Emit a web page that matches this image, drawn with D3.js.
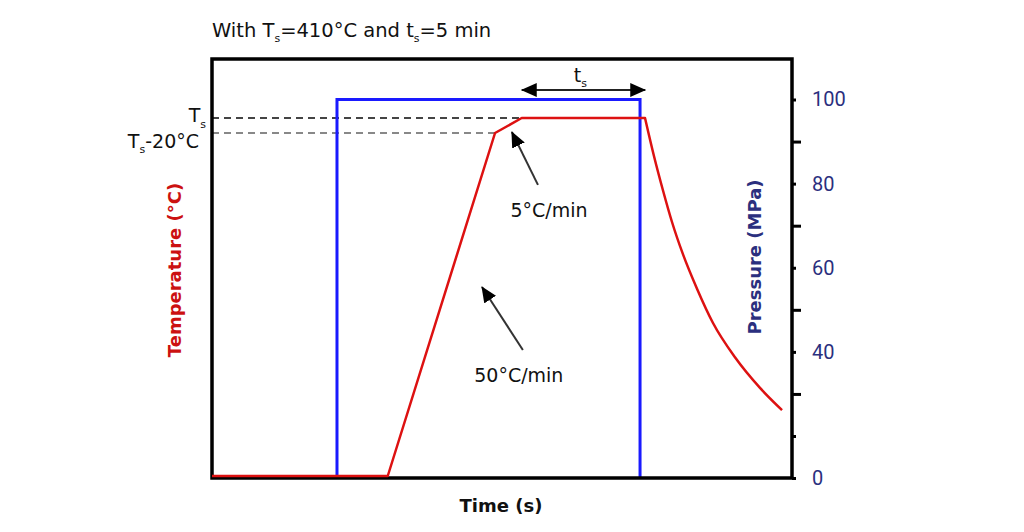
<!DOCTYPE html>
<html>
<head>
<meta charset="utf-8">
<script src="https://cdn.jsdelivr.net/npm/d3@7"></script>
<style>
  html, body { margin: 0; padding: 0; background: #fff; }
  svg { display: block; font-family: "DejaVu Sans", Roboto, sans-serif; }
</style>
</head>
<body>
<svg id="chart" width="1024" height="532"></svg>
<script>
// ---- data (schematic time units) ----
const tempTime   = [0, 30.3, 48.8, 53.4, 74.66, 76.21, 77.76, 79.31, 81.21, 83.62, 86.38, 90.17, 94.48, 98.28];
const tempValues = [20, 20, 390, 410, 410, 365, 328, 294, 259, 222, 185, 148, 115, 91];
const pressTime   = [21.55, 21.55, 73.8, 73.8];
const pressValues = [0, 100, 100, 0];
const pressLabelTicks = [100, 80, 60, 40, 0];
const pressMinorTicks = [90, 70, 50, 30];
const pressSmallTicks = [20];
const sinterTemp = 410;
const sinterTempLow = 390;

(function () {
const svg = d3.select("#chart");
const pL = 212, pR = 792, pT = 59, pB = 478;

const x = d3.scaleLinear().domain([0, 100]).range([pL, pR]);
const yT = d3.scaleLinear().domain([20, 390, 410]).range([476, 133, 118]);
const yP = d3.scaleLinear().domain([0, 20, 100]).range([pB, 436, 99.5]);

// defs: arrow marker
const defs = svg.append("defs");
defs.append("marker").attr("id", "ah").attr("viewBox", "0 0 16 14")
  .attr("refX", 15).attr("refY", 7).attr("markerWidth", 16).attr("markerHeight", 14)
  .attr("markerUnits", "userSpaceOnUse").attr("orient", "auto-start-reverse")
  .append("path").attr("d", "M0,0 L16,7 L0,14 Z").attr("fill", "#000");

// title
const title = svg.append("text").attr("x", 212).attr("y", 37)
  .attr("font-size", 19.5).attr("fill", "#111");
title.append("tspan").text("With T");
title.append("tspan").attr("font-size", 11).attr("dy", 5).text("s");
title.append("tspan").attr("dy", -5).text("=410°C and t");
title.append("tspan").attr("font-size", 11).attr("dy", 5).text("s");
title.append("tspan").attr("dy", -5).text("=5 min");

// dashed reference lines
svg.append("line").attr("x1", pL).attr("x2", x(53.4)).attr("y1", yT(sinterTemp)).attr("y2", yT(sinterTemp))
  .attr("stroke", "#444").attr("stroke-width", 2).attr("stroke-dasharray", "7,5");
svg.append("line").attr("x1", pL).attr("x2", x(48.8)).attr("y1", yT(sinterTempLow)).attr("y2", yT(sinterTempLow))
  .attr("stroke", "#888").attr("stroke-width", 2).attr("stroke-dasharray", "7,5");

// left labels Ts and Ts-20°C
const l1 = svg.append("text").attr("x", 206).attr("y", yT(sinterTemp) + 4).attr("text-anchor", "end")
  .attr("font-size", 19).attr("fill", "#111");
l1.append("tspan").text("T");
l1.append("tspan").attr("font-size", 11).attr("dy", 6).text("s");
const l2 = svg.append("text").attr("x", 199).attr("y", 148).attr("text-anchor", "end")
  .attr("font-size", 19).attr("fill", "#111");
l2.append("tspan").text("T");
l2.append("tspan").attr("font-size", 11).attr("dy", 5).text("s");
l2.append("tspan").attr("dy", -5).text("-20°C");

// pressure line
const pLine = d3.line().x((d, i) => x(pressTime[i])).y(d => yP(d));
svg.append("path").attr("d", pLine(pressValues)).attr("fill", "none")
  .attr("stroke", "#1a1aff").attr("stroke-width", 3);

// frame
svg.append("rect").attr("x", pL).attr("y", pT).attr("width", pR - pL).attr("height", pB - pT)
  .attr("fill", "none").attr("stroke", "#000").attr("stroke-width", 3.5);

// temperature line: heating/hold linear, cooling smooth
const tempPts = tempTime.map((t, i) => [t, tempValues[i]]);
const tLin = d3.line().x(d => x(d[0])).y(d => yT(d[1]));
const tSmooth = d3.line().x(d => x(d[0])).y(d => yT(d[1])).curve(d3.curveMonotoneX);
svg.append("path").attr("d", tLin(tempPts.slice(0, 5)) + tSmooth(tempPts.slice(4)).replace(/^M[^LC]*/, ""))
  .attr("fill", "none").attr("stroke", "#dd1111").attr("stroke-width", 2.5).attr("stroke-linejoin", "round");

// right axis
const axMain = svg.append("g").attr("transform", `translate(${pR},0)`)
  .call(d3.axisRight(yP).tickValues(pressLabelTicks).tickSize(4).tickPadding(16).tickFormat(d3.format("d")));
const axMinor = svg.append("g").attr("transform", `translate(${pR},0)`)
  .call(d3.axisRight(yP).tickValues(pressMinorTicks).tickSize(9).tickFormat(""));
const axMinor2 = svg.append("g").attr("transform", `translate(${pR},0)`)
  .call(d3.axisRight(yP).tickValues(pressSmallTicks).tickSize(4).tickFormat(""));
[axMain, axMinor, axMinor2].forEach(g => {
  g.select(".domain").remove();
  g.selectAll(".tick line").attr("stroke", "#000").attr("stroke-width", 3);
  g.selectAll(".tick text").attr("font-size", 20).attr("fill", "#2b2f7e")
    .attr("font-family", "Roboto, sans-serif");
});

// ts double arrow
svg.append("line").attr("x1", x(53.4)).attr("x2", x(74.7)).attr("y1", 90).attr("y2", 90)
  .attr("stroke", "#222").attr("stroke-width", 2)
  .attr("marker-start", "url(#ah)").attr("marker-end", "url(#ah)");
const tsl = svg.append("text").attr("x", x(63.5)).attr("y", 82).attr("text-anchor", "middle")
  .attr("font-size", 19).attr("fill", "#111");
tsl.append("tspan").text("t");
tsl.append("tspan").attr("font-size", 11).attr("dy", 5).text("s");

// rate annotations
function annot(tail, tip, label, pos) {
  svg.append("line").attr("x1", x(tail[0])).attr("y1", yT(tail[1]))
    .attr("x2", x(tip[0])).attr("y2", yT(tip[1]))
    .attr("stroke", "#333").attr("stroke-width", 2).attr("marker-end", "url(#ah)");
  svg.append("text").attr("x", x(pos[0])).attr("y", yT(pos[1])).attr("text-anchor", "middle")
    .attr("font-size", 19).attr("fill", "#111").text(label);
}
annot([56.2, 334], [51.7, 391.3], "5°C/min", [58.1, 299.4]);
annot([53.6, 155.9], [46.55, 223.9], "50°C/min", [52.9, 121.4]);

// axis titles
svg.append("text").attr("transform", "translate(181,270) rotate(-90)").attr("text-anchor", "middle")
  .attr("font-size", 18).attr("font-weight", "bold").attr("fill", "#cc1111").text("Temperature (°C)");
svg.append("text").attr("transform", "translate(761,257) rotate(-90)").attr("text-anchor", "middle")
  .attr("font-size", 18).attr("font-weight", "bold").attr("fill", "#2b2f7e").text("Pressure (MPa)");
svg.append("text").attr("x", 501).attr("y", 512).attr("text-anchor", "middle")
  .attr("font-size", 18).attr("font-weight", "bold").attr("fill", "#111").text("Time (s)");
})();
</script>
</body>
</html>
